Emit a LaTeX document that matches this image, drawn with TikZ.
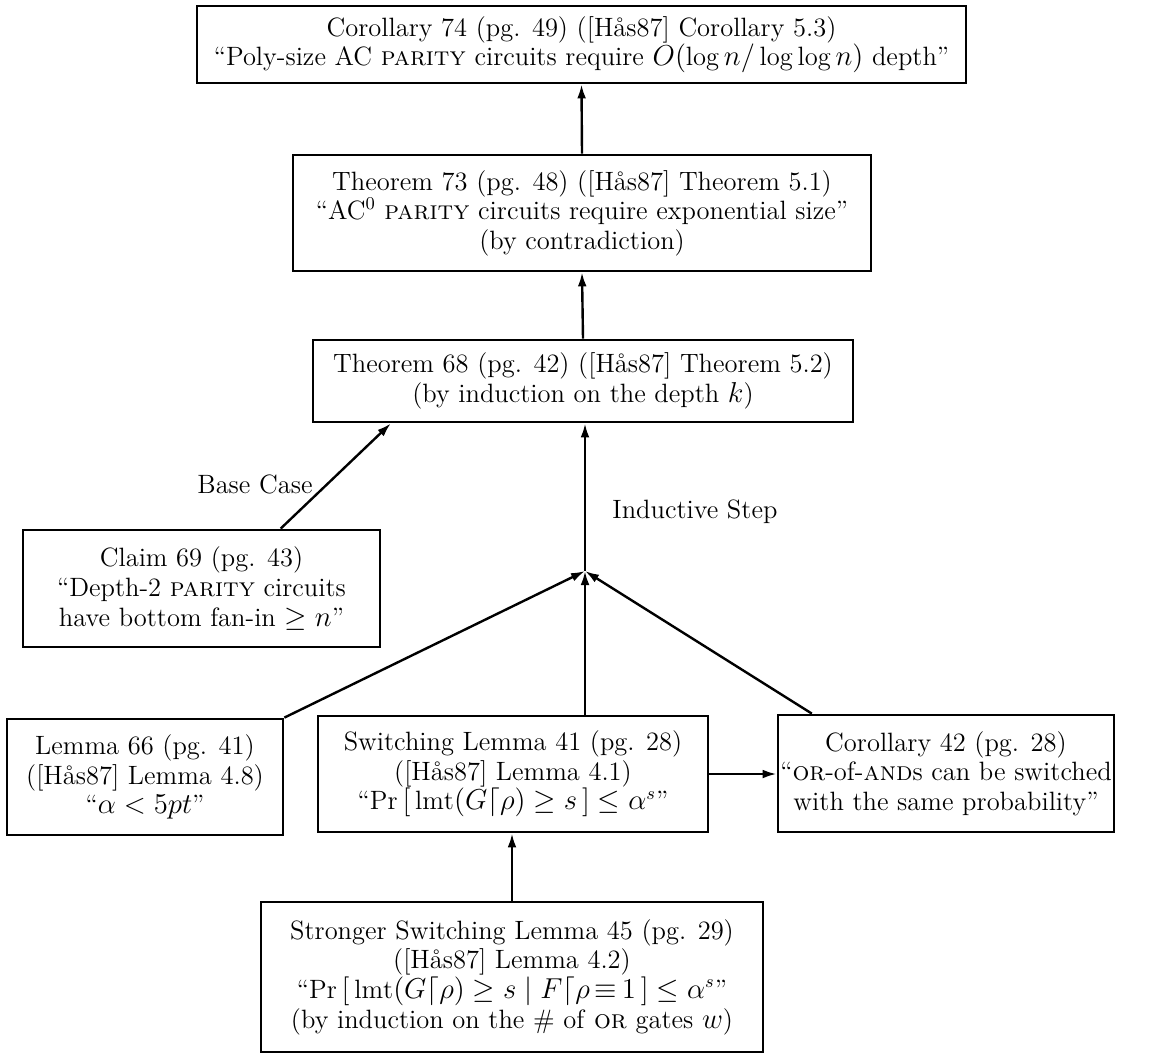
\documentclass[tikz,border=0pt]{standalone}
\usepackage{fontspec}
\usetikzlibrary{arrows.meta,calc}

\begin{document}
\begin{tikzpicture}[x=0.5pt,y=-0.5pt,
  box/.style 2 args={draw, line width=1.4pt, inner sep=0pt, align=center,
    minimum width=#1*0.5pt, minimum height=#2*0.5pt,
    font=\fontsize{13.25}{14.8}\selectfont},
  lbl/.style={font=\fontsize{13.25}{14.8}\selectfont, inner sep=0pt},
  arr/.style={line width=1.2pt, -{Latex[length=7pt,width=4.4pt]}}]

\useasboundingbox (0,0) rectangle (1168,1055);

\node[box={769}{77}] (cor74) at (581.5,44.5)
  {Corollary 74 (pg. 49) ([H\aa s87] Corollary 5.3)\\
   ``Poly-size AC \textsc{parity} circuits require $O(\log n/\log\log n)$ depth''};

\node[box={578}{116}] (thm73) at (582,213)
  {Theorem 73 (pg. 48) ([H\aa s87] Theorem 5.1)\\
   ``AC$^0$ \textsc{parity} circuits require exponential size''\\
   (by contradiction)};

\node[box={540}{82}] (thm68) at (583,381)
  {Theorem 68 (pg. 42) ([H\aa s87] Theorem 5.2)\\
   (by induction on the depth $k$)};

\node[box={357}{117}] (cl69) at (201.5,588.5)
  {Claim 69 (pg. 43)\\
   ``Depth-2 \textsc{parity} circuits\\
   have bottom fan-in $\geq n$''};

\node[box={276}{116}] (lm66) at (145,777)
  {Lemma 66 (pg. 41)\\
   ([H\aa s87] Lemma 4.8)\\
   ``$\alpha < 5pt$''};

\node[box={390}{116}] (sw41) at (513,774)
  {Switching Lemma 41 (pg. 28)\\
   ([H\aa s87] Lemma 4.1)\\
   ``$\Pr\,[\,\mathrm{lmt}(G\lceil\rho) \geq s\,] \leq \alpha^s$''};

\node[box={336}{117}] (cor42) at (946,773.5)
  {Corollary 42 (pg. 28)\\
   ``\textsc{or}-of-\textsc{and}s can be switched\\
   with the same probability''};

\node[box={502}{150}] (st45) at (512,977)
  {Stronger Switching Lemma 45 (pg. 29)\\
   ([H\aa s87] Lemma 4.2)\\
   ``$\Pr\,[\,\mathrm{lmt}(G\lceil\rho) \geq s \mid F\lceil\rho\,{\equiv}\,1\,] \leq \alpha^s$''\\
   (by induction on the \# of \textsc{or} gates $w$)};

% edge labels
\node[lbl] (base) at (255,484) {Base Case};
\node[lbl, anchor=west] (ind) at (612,512) {Inductive Step};

% junction where the inductive-step arguments meet
\coordinate (J) at (585,571);

% connectors
\draw[arr] (thm73.north) -- (cor74.south);
\draw[arr] (thm68.north) -- (thm73.south);
\draw[arr] ($(cl69.north west)!0.72!(cl69.north east)$)
        -- ($(thm68.south west)!0.146!(thm68.south east)$);
\draw[arr] (J) -- (J |- thm68.south);
\draw[arr] (lm66.north east) -- (J);
\draw[arr] (J |- sw41.north) -- (J);
\draw[arr] ($(cor42.north west)!0.104!(cor42.north east)$) -- (J);
\draw[arr] (st45.north) -- (st45.north |- sw41.south);
\draw[arr] (sw41.east) -- (sw41.east -| cor42.west);

\end{tikzpicture}
\end{document}
